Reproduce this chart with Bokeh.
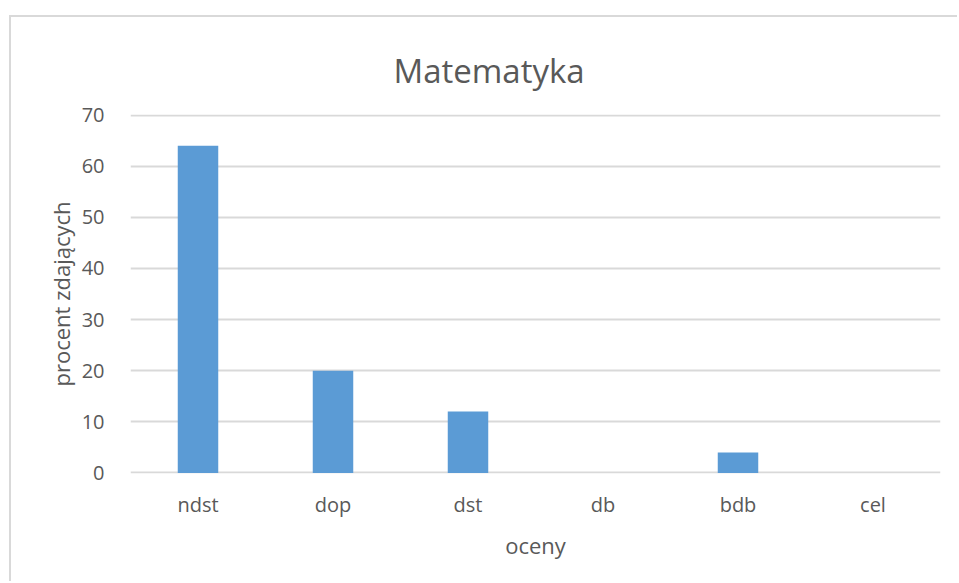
from bokeh.plotting import figure
from bokeh.models import FactorRange, Range1d
from bokeh.embed import file_html
from bokeh.resources import INLINE

categories = ["ndst", "dop", "dst", "db", "bdb", "cel"]
values = [64, 20, 12, 0, 4, 0]
y_ticks = [0, 10, 20, 30, 40, 50, 60, 70]
title_text = "Matematyka"

FONT = "Open Sans"
TXT = "#595959"
GRID = "#d9d9d9"

p = figure(
    x_range=FactorRange(*categories, range_padding=0),
    y_range=Range1d(-0.12, 70.12),
    width=948, height=566,
    output_backend="svg", toolbar_location=None,
    title=title_text,
    min_border_left=119, min_border_right=19,
    min_border_top=97, min_border_bottom=110,
    x_axis_label="oceny", y_axis_label="procent zdających",
    styles={"border-top": "2px solid #d9d9d9", "border-left": "2px solid #d9d9d9",
            "margin-top": "15px", "margin-left": "9px"},
)

p.vbar(x=categories, top=values, width=0.3, color="#5B9BD5", line_color=None)

p.outline_line_color = None
p.background_fill_color = "white"
p.border_fill_color = "white"

p.title.align = "left"
p.title.offset = 263
p.title.text_font = FONT
p.title.text_font_size = "33px"
p.title.text_font_style = "normal"
p.title.text_color = TXT
p.title.standoff = 44

p.yaxis.ticker = y_ticks
p.ygrid.grid_line_color = GRID
p.ygrid.grid_line_width = 2
p.xgrid.grid_line_color = None

for ax in (p.xaxis, p.yaxis):
    ax.axis_line_color = None
    ax.major_tick_line_color = None
    ax.minor_tick_line_color = None
    ax.major_label_text_font = FONT
    ax.major_label_text_font_size = "20px"
    ax.major_label_text_color = TXT
    ax.axis_label_text_font = FONT
    ax.axis_label_text_font_size = "22px"
    ax.axis_label_text_font_style = "normal"
    ax.axis_label_text_color = TXT

p.yaxis.major_label_standoff = 20
p.yaxis.axis_label_standoff = 3
p.xaxis.major_label_standoff = 11
p.xaxis.axis_label_standoff = 9

open("out.html", "w").write(file_html(p, INLINE))
